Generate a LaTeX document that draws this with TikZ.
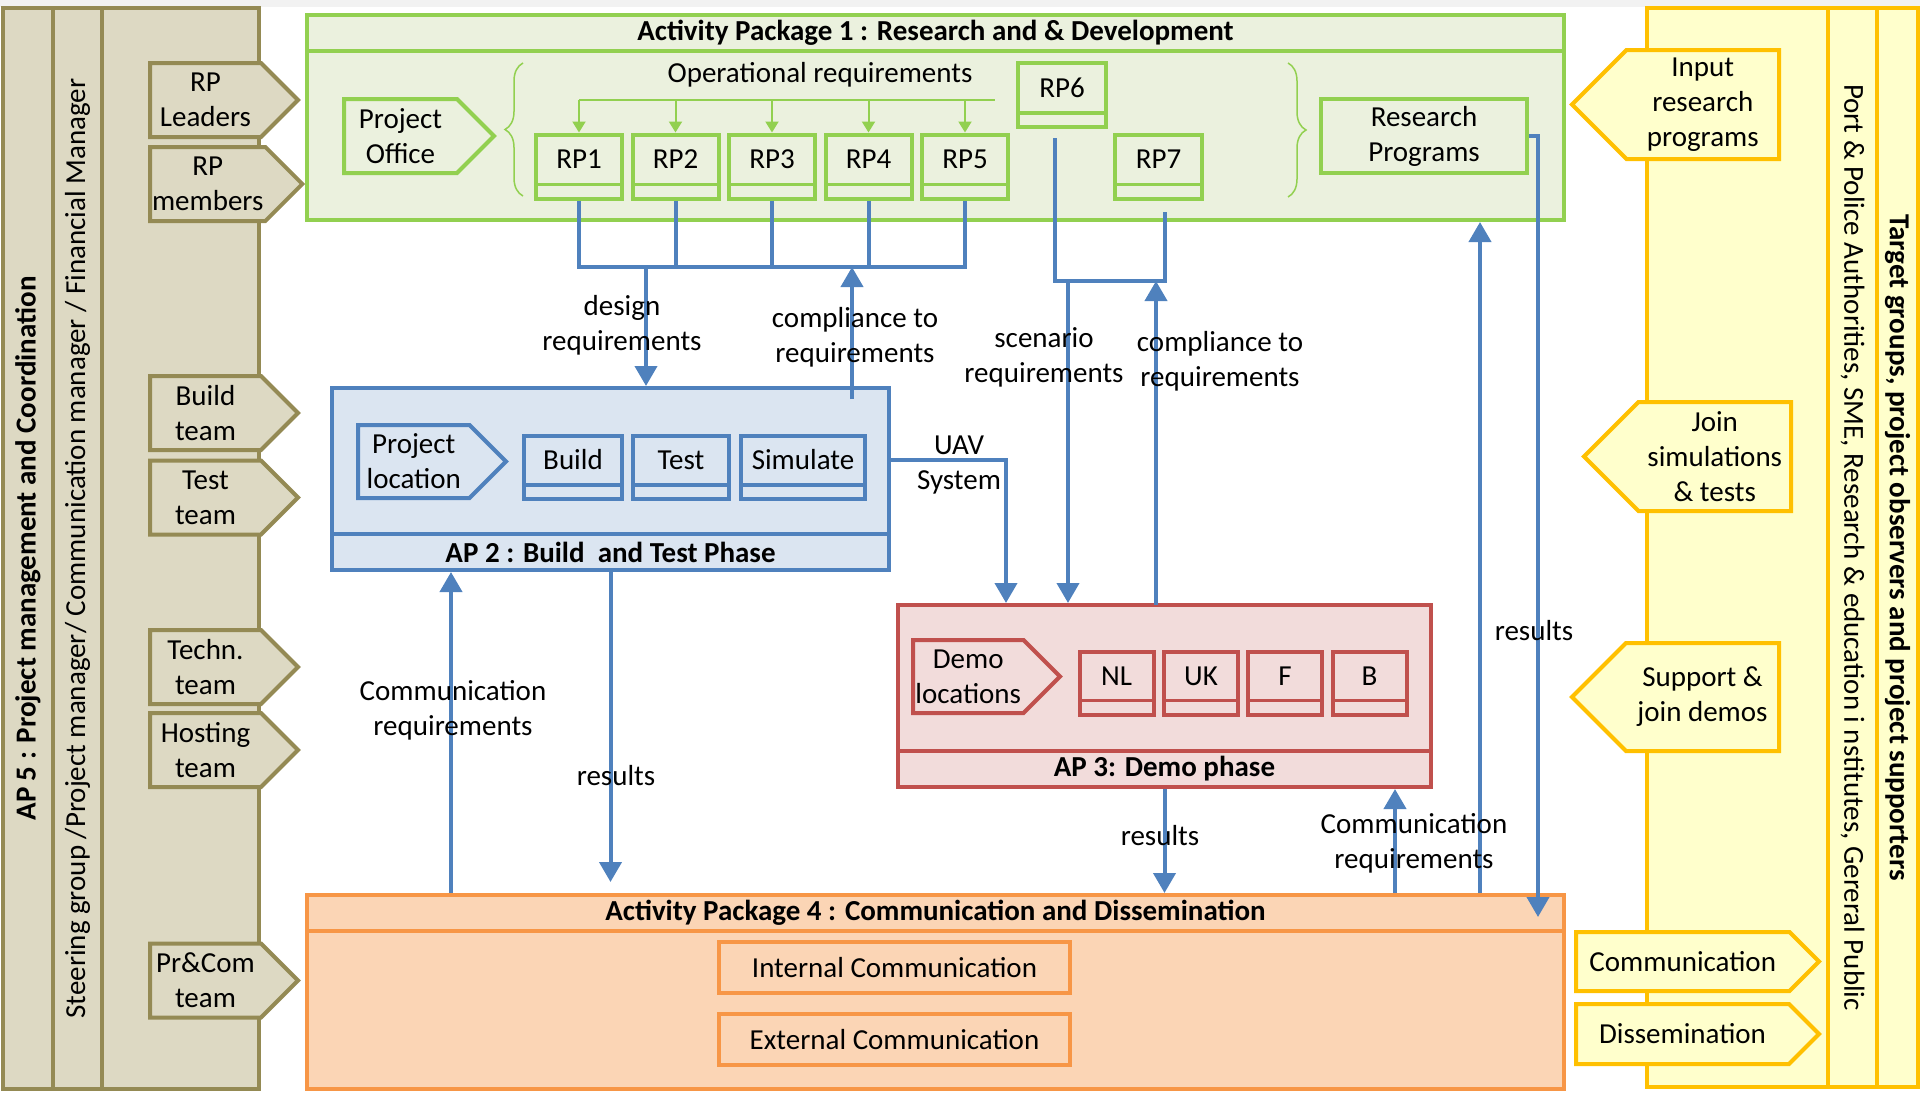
\documentclass[tikz,border=0pt]{standalone}
\usepackage{fontspec}
\setmainfont{Carlito}
\usepackage{tikz}
\usetikzlibrary{shapes.symbols, arrows.meta, decorations.pathreplacing}

\definecolor{tanfill}{HTML}{DDD9C3}
\definecolor{tanline}{HTML}{948A54}
\definecolor{grnfill}{HTML}{EBF1DE}
\definecolor{grnline}{HTML}{92D050}
\definecolor{bluefill}{HTML}{DBE5F1}
\definecolor{blueline}{HTML}{4F81BD}
\definecolor{redfill}{HTML}{F2DCDB}
\definecolor{redline}{HTML}{C0504D}
\definecolor{orgfill}{HTML}{FBD5B5}
\definecolor{orgline}{HTML}{F79646}
\definecolor{ylwfill}{HTML}{FFFFCC}
\definecolor{ylwline}{HTML}{FFC000}

\newcommand{\dfont}{\fontsize{29}{35}\selectfont}

\begin{document}
\begin{tikzpicture}[
  x=1pt, y=-1pt, font=\dfont,
  panel/.style={rectangle, draw=#1line, fill=#1fill, line width=4pt, inner sep=0pt},
  subbox/.style={rectangle, draw=#1line, fill=#1fill, line width=4pt, inner sep=0pt,
    minimum height=64pt, text height=20pt, text depth=16pt,
    path picture={\draw[#1line, line width=3.5pt]
      ([yshift=14pt]path picture bounding box.south west) --
      ([yshift=14pt]path picture bounding box.south east);}},
  chevron/.style={shape=signal, signal pointer angle=90, draw=#1line, fill=#1fill,
    line width=4pt, inner sep=2pt, align=center},
  toright/.style={signal to=east, anchor=west},
  toleft/.style={signal to=west, anchor=east},
  link/.style={draw=blueline, line width=4pt},
  linkarrow/.style={link, -{Triangle[width=22pt,length=20pt]}},
  oplink/.style={draw=grnline, line width=2pt},
  oparrow/.style={oplink, -{Triangle[width=13pt,length=11pt]}},
  lbl/.style={align=center, inner sep=0pt},
  bracket/.style={draw=grnline, line width=1.5pt, decorate, decoration={brace, amplitude=18pt}}
]
\useasboundingbox (0,0) rectangle (1920,1093);
\fill[gray!10] (0,0) rectangle (1920,7);

% AP 5 panel
\node[panel=tan, rotate=90, minimum width=1081pt, minimum height=50pt, font=\dfont\bfseries] (ap5) at (28,548.5) {AP 5 : Project management and Coordination};
\node[panel=tan, rotate=90, minimum width=1081pt, minimum height=49pt] (roles) at (77.5,548.5) {Steering group /Project manager/ Communication manager / Financial Manager};
\node[panel=tan, minimum width=157pt, minimum height=1081pt] (teams) at (180.5,548.5) {};

% teams
\node[chevron=tan, toright, minimum width=148pt, minimum height=74pt] (rplead) at (148,100) {RP\\Leaders};
\node[chevron=tan, toright, minimum width=148pt, minimum height=74pt] (rpmemb) at (148,184) {RP\\members};
\node[chevron=tan, toright, minimum width=148pt, minimum height=74pt] (buildt) at (148,413) {Build\\team};
\node[chevron=tan, toright, minimum width=148pt, minimum height=74pt] (testt) at (148,497.5) {Test\\team};
\node[chevron=tan, toright, minimum width=148pt, minimum height=74pt] (techt) at (148,667) {Techn.\\team};
\node[chevron=tan, toright, minimum width=148pt, minimum height=74pt] (hostt) at (148,750) {Hosting\\team};
\node[chevron=tan, toright, minimum width=148pt, minimum height=74pt] (prcomt) at (148,980.5) {Pr\&Com\\team};

% target groups panel
\node[panel=ylw, minimum width=181pt, minimum height=1079pt] (inputs) at (1737.5,547.5) {};
\node[panel=ylw, rotate=-90, minimum width=1079pt, minimum height=49pt] (groups) at (1852.5,547.5) {Port \& Police Authorities, SME, Research \& education i nstitutes, Gereral Public};
\node[panel=ylw, rotate=-90, minimum width=1079pt, minimum height=41pt, font=\dfont\bfseries] (targets) at (1897.5,547.5) {Target groups, project observers and project supporters};

\node[chevron=ylw, toleft, minimum width=207pt, minimum height=109pt] (inres) at (1781,104.5) {Input\\research\\programs};
\node[chevron=ylw, toleft, minimum width=207pt, minimum height=109pt] (joinsim) at (1793,456.5) {Join\\simulations\\\& tests};
\node[chevron=ylw, toleft, minimum width=207pt, minimum height=108pt] (supdemo) at (1781,697) {Support \&\\join demos};
\node[chevron=ylw, toright, minimum width=243pt, minimum height=59pt] (comm) at (1574,961.5) {Communication};
\node[chevron=ylw, toright, minimum width=243pt, minimum height=60pt] (dissem) at (1574,1034) {Dissemination};

% Activity Package 1
\node[panel=grn, minimum width=1257pt, minimum height=205pt] (ap1) at (935.5,117.5) {};
\node[panel=grn, minimum width=1257pt, minimum height=36pt, anchor=north, font=\dfont\bfseries] (ap1head) at (ap1.north) {Activity Package 1 : Research and \& Development};
\node[chevron=grn, toright, minimum width=150pt, minimum height=74pt] (office) at (342,136) {Project\\Office};
\node[lbl] (opreq) at (820,75) {Operational requirements};
\node[subbox=grn, minimum width=86pt] (rp1) at (579,166.5) {RP1};
\node[subbox=grn, minimum width=86pt] (rp2) at (675.5,166.5) {RP2};
\node[subbox=grn, minimum width=86pt] (rp3) at (772,166.5) {RP3};
\node[subbox=grn, minimum width=86pt] (rp4) at (868.5,166.5) {RP4};
\node[subbox=grn, minimum width=86pt] (rp5) at (965,166.5) {RP5};
\node[subbox=grn, minimum width=88pt] (rp6) at (1062,95) {RP6};
\node[subbox=grn, minimum width=87pt] (rp7) at (1158.5,166.5) {RP7};
\node[panel=grn, minimum width=206pt, minimum height=74pt, align=center] (rprog) at (1424,136) {Research\\Programs};
\draw[bracket] (523,196) -- (523,63);
\draw[bracket] (1288,63) -- (1288,197);

% operational requirements
\coordinate (opbus) at (995,100);
\draw[oplink] (rp1.north |- opbus) -- (opbus);
\draw[oparrow] (rp1.north |- opbus) -- (rp1.north);
\draw[oparrow] (rp2.north |- opbus) -- (rp2.north);
\draw[oparrow] (rp3.north |- opbus) -- (rp3.north);
\draw[oparrow] (rp4.north |- opbus) -- (rp4.north);
\draw[oparrow] (rp5.north |- opbus) -- (rp5.north);

% AP 2
\node[panel=blue, minimum width=557pt, minimum height=182pt] (ap2) at (610.5,479) {};
\node[panel=blue, minimum width=557pt, minimum height=36pt, anchor=south, font=\dfont\bfseries] (ap2foot) at (ap2.south) {AP 2 : Build\ \ and Test Phase};
\node[chevron=blue, toright, minimum width=148pt, minimum height=73pt] (ploc) at (356,461.5) {Project\\location};
\node[subbox=blue, minimum width=98pt, minimum height=63pt] (build) at (573,467.5) {Build};
\node[subbox=blue, minimum width=96pt, minimum height=63pt] (test) at (681,467.5) {Test};
\node[subbox=blue, minimum width=124pt, minimum height=63pt] (simul) at (803,467.5) {Simulate};

% AP 3
\node[panel=red, minimum width=533pt, minimum height=182pt] (ap3) at (1164.5,696) {};
\node[panel=red, minimum width=533pt, minimum height=36pt, anchor=south, font=\dfont\bfseries] (ap3foot) at (ap3.south) {AP 3: Demo phase};
\node[chevron=red, toright, minimum width=147pt, minimum height=73pt] (demo) at (911,676.5) {Demo\\locations};
\node[subbox=red, minimum width=74pt, minimum height=63pt] (nl) at (1116.5,683) {NL};
\node[subbox=red, minimum width=74pt, minimum height=63pt] (uk) at (1201,683) {UK};
\node[subbox=red, minimum width=74pt, minimum height=63pt] (fr) at (1285,683) {F};
\node[subbox=red, minimum width=74pt, minimum height=63pt] (be) at (1369.5,683) {B};

% AP 4
\node[panel=org, minimum width=1257pt, minimum height=194pt] (ap4) at (935.5,992) {};
\node[panel=org, minimum width=1257pt, minimum height=36pt, anchor=north, font=\dfont\bfseries] (ap4head) at (ap4.north) {Activity Package 4 : Communication and Dissemination};
\node[panel=org, minimum width=351pt, minimum height=51pt] (intcom) at (894.5,967.5) {Internal Communication};
\node[panel=org, minimum width=351pt, minimum height=51pt] (extcom) at (894.5,1039.5) {External Communication};

% RP1-RP5 to AP 2
\coordinate (busA) at (0,267);
\draw[link] (rp1.south) -- (rp1.south |- busA) -- (rp5.south |- busA) -- (rp5.south);
\draw[link] (rp2.south) -- (rp2.south |- busA);
\draw[link] (rp3.south) -- (rp3.south |- busA);
\draw[link] (rp4.south) -- (rp4.south |- busA);
\coordinate (dsgn) at (646,267);
\draw[linkarrow] (dsgn) -- (dsgn |- ap2.north);
\coordinate (cmpl) at (852,399);
\draw[linkarrow] (cmpl) -- (cmpl |- busA);

% AP 2 to AP 3
\coordinate (uav) at (889,460);
\draw[linkarrow] (uav) -| ([xshift=110pt]ap3.north west);

% RP6, RP7 to AP 3
\coordinate (busB) at (0,281);
\coordinate (rp6b) at ([xshift=-7pt,yshift=-9pt]rp6.south);
\coordinate (rp7b) at ([xshift=6pt,yshift=-11pt]rp7.south);
\draw[link] (rp6b) -- (rp6b |- busB) -- (rp7b |- busB) -- (rp7b);
\coordinate (scen) at (1068,281);
\draw[linkarrow] (scen) -- (scen |- ap3.north);
\coordinate (cmpl2) at (1156,605);
\draw[linkarrow] (cmpl2) -- (cmpl2 |- busB);

% AP 4 links
\coordinate (c2) at ([xshift=121pt]ap2.south west);
\draw[linkarrow] (c2 |- ap4.north) -- (c2);
\coordinate (res2end) at (610.5,882);
\draw[linkarrow] (ap2.south) -- (res2end);
\draw[linkarrow] (ap3.south) -- (ap3.south |- ap4.north);
\coordinate (c3) at ([xshift=-38pt]ap3.south east);
\draw[linkarrow] (c3 |- ap4.north) -- (c3);
\coordinate (up1) at ([xshift=-86pt]ap1.south east);
\draw[linkarrow] (up1 |- ap4.north) -- (up1);
\coordinate (resend) at (1538,917);
\draw[linkarrow] (rprog.east) -| (resend);

% labels
\node[lbl] (dsgnlbl) at (622,325) {design\\requirements};
\node[lbl] (cmpllbl) at (855,337) {compliance to\\requirements};
\node[lbl] (uavlbl) at (959,465) {UAV\\System};
\node[lbl] (scenlbl) at (1044,357) {scenario\\requirements};
\node[lbl] (cmpl2lbl) at (1220,361) {compliance to\\requirements};
\node[lbl] (c2lbl) at (453,710) {Communication\\requirements};
\node[lbl] (res2lbl) at (616,776) {results};
\node[lbl] (res3lbl) at (1160,836) {results};
\node[lbl] (c3lbl) at (1414,843) {Communication\\requirements};
\node[lbl] (res1lbl) at (1534,631) {results};

\end{tikzpicture}
\end{document}
